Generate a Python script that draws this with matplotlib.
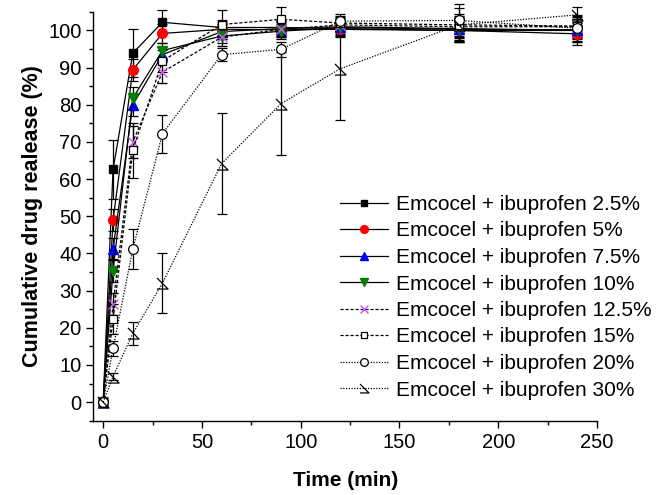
import matplotlib
matplotlib.use("Agg")
import matplotlib.pyplot as plt
from matplotlib.path import Path
from matplotlib.ticker import MultipleLocator

plt.rcParams['font.family'] = ['Liberation Sans', 'DejaVu Sans']

time = [0, 5, 15, 30, 60, 90, 120, 180, 240]

labels = ["Emcocel + ibuprofen 2.5%", "Emcocel + ibuprofen 5%",
          "Emcocel + ibuprofen 7.5%", "Emcocel + ibuprofen 10%",
          "Emcocel + ibuprofen 12.5%", "Emcocel + ibuprofen 15%",
          "Emcocel + ibuprofen 20%", "Emcocel + ibuprofen 30%"]

r2_5 = [0, 62.6, 93.9, 102.2, 100.8, 100.8, 100.5, 100.0, 100.0]
r5 = [0, 49.0, 89.4, 99.2, 100.3, 100.2, 100.3, 100.0, 99.1]
r7_5 = [0, 41.2, 80.0, 93.5, 99.7, 100.5, 101.0, 100.5, 100.0]
r10 = [0, 35.4, 81.8, 94.6, 98.5, 99.8, 100.8, 100.3, 100.2]
r12_5 = [0, 26.4, 70.0, 88.8, 98.2, 100.3, 101.5, 101.0, 101.0]
r15 = [0, 22.3, 67.8, 91.8, 101.6, 103.0, 102.0, 101.5, 101.2]
r20 = [0, 14.5, 41.2, 72.2, 93.5, 94.9, 102.5, 102.7, 100.6]
r30 = [0, 6.9, 18.5, 32.0, 64.2, 80.3, 89.7, 101.5, 104.2]

e2_5 = [0, 8.0, 6.5, 3.2, 2.0, 2.0, 2.0, 3.0, 3.0]
e5 = [0, 3.0, 3.0, 2.5, 2.0, 2.0, 2.0, 3.0, 3.0]
e7_5 = [0, 3.0, 3.0, 2.0, 2.0, 2.0, 2.0, 3.0, 3.0]
e10 = [0, 3.0, 3.0, 2.0, 2.0, 2.0, 2.0, 3.0, 3.0]
e12_5 = [0, 3.0, 4.4, 3.0, 2.5, 2.0, 2.0, 3.0, 3.0]
e15 = [0, 4.0, 7.4, 3.0, 4.0, 3.3, 2.0, 3.0, 3.0]
e20 = [0, 2.0, 5.3, 5.1, 1.8, 2.0, 2.0, 4.5, 3.0]
e30 = [0, 1.0, 3.0, 8.0, 13.5, 13.8, 13.7, 4.5, 2.0]

tri_path = Path([(-0.5, 0.5), (0.5, -0.5), (-0.5, -0.5)],
                [Path.MOVETO, Path.LINETO, Path.LINETO])

series = [
    (r2_5, e2_5, dict(marker='s', mfc='black', mec='black', ms=6, ls='-')),
    (r5, e5, dict(marker='o', mfc='red', mec='red', ms=7, ls='-')),
    (r7_5, e7_5, dict(marker='^', mfc='blue', mec='blue', ms=7, ls='-')),
    (r10, e10, dict(marker='v', mfc='#008000', mec='#008000', ms=7, ls='-')),
    (r12_5, e12_5, dict(marker='x', mfc='none', mec='#CC55EE', ms=7, mew=1.0, ls=(0, (2.5, 1.5)))),
    (r15, e15, dict(marker='s', mfc='white', mec='black', ms=6, mew=0.9, ls=(0, (2.5, 1.5)))),
    (r20, e20, dict(marker='o', mfc='white', mec='black', ms=7, mew=0.9, ls=(0, (1, 1.2)))),
    (r30, e30, dict(marker=tri_path, mfc='none', mec='black', ms=8, mew=0.9, ls=(0, (1, 1.2)))),
]

fig = plt.figure(figsize=(6.57, 4.95), dpi=100)
ax = fig.add_axes([0.142, 0.150, 0.7667, 0.826])

handles = []
for (vals, errs, st), lab in zip(series, labels):
    h = ax.errorbar(time, vals, yerr=errs, color='black', ecolor='black',
                    elinewidth=0.9, capsize=3.5, capthick=0.9, lw=0.9,
                    label=lab, clip_on=False, **st)
    handles.append(h[0])
    if st['mfc'] == 'white':
        ax.plot(time, vals, ls='none', marker='.', ms=2, color='black', clip_on=False)

ax.set_xlim(-5, 250)
ax.set_ylim(-5, 105)
ax.xaxis.set_major_locator(MultipleLocator(50))
ax.xaxis.set_minor_locator(MultipleLocator(25))
ax.yaxis.set_major_locator(MultipleLocator(10))
ax.yaxis.set_minor_locator(MultipleLocator(5))
ax.spines['top'].set_visible(False)
ax.spines['right'].set_visible(False)
for s in ['left', 'bottom']:
    ax.spines[s].set_linewidth(1.0)
ax.tick_params(which='major', direction='out', length=5, width=1.0, labelsize=14.5)
ax.tick_params(which='minor', direction='out', length=3, width=1.0)

ax.set_xlabel("Time (min)", fontsize=15, fontweight='bold', labelpad=14)
ax.set_ylabel("Cumulative drug realease (%)", fontsize=15.5, fontweight='bold', labelpad=4)

ax.legend(handles=handles, labels=labels, loc='upper left',
          bbox_to_anchor=(340 / 657, 1 - 195 / 495), bbox_transform=fig.transFigure,
          frameon=False, fontsize=15, labelspacing=0.36, handlelength=2.3,
          handletextpad=0.4, borderpad=0, borderaxespad=0, markerscale=0.8)

fig.savefig("out.png", dpi=100)
